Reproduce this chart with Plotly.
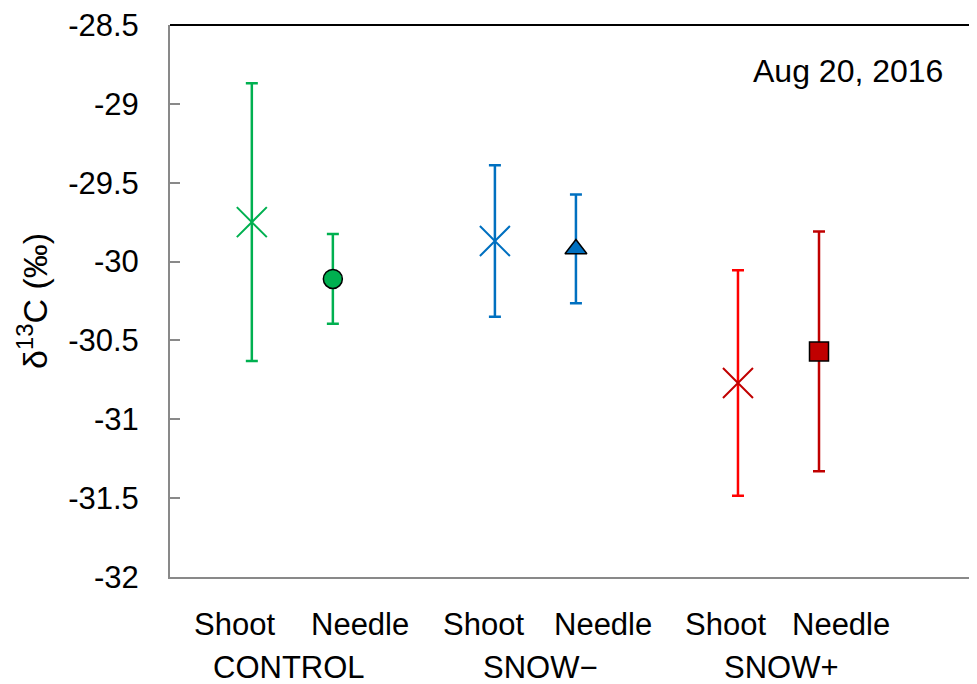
import plotly.graph_objects as go

# slot positions along the x axis (shoot / needle per treatment)
positions = [0, 1, 3, 4, 6, 7]
means = [-29.75, -30.11, -29.87, -29.92, -30.77, -30.57]
errors = [0.88, 0.285, 0.48, 0.345, 0.715, 0.76]
tissues = ["Shoot", "Needle", "Shoot", "Needle", "Shoot", "Needle"]
treatments = ["CONTROL", "SNOW\u2212", "SNOW+"]
y_ticks = [-32, -31.5, -31, -30.5, -30, -29.5, -29, -28.5]

bar_colors = ["#00B050", "#00B050", "#0070C0", "#0070C0", "#FF0000", "#C00000"]
marker_fill = ["#00B050", "#00B050", "#0070C0", "#0070C0", "#C00000", "#C00000"]
symbols = ["x-thin", "circle", "x-thin", "triangle-up", "x-thin", "square"]

# where the text labels sit below the axis (x data units)
tissue_label_x = [-0.21, 1.33, 2.86, 4.33, 5.84, 7.27]
treatment_label_x = [0.46, 3.56, 6.54]

FONT = "Liberation Sans, Arial, sans-serif"

fig = go.Figure()

for i in range(len(positions)):
    is_x = symbols[i] == "x-thin"
    fig.add_trace(go.Scatter(
        x=[positions[i]],
        y=[means[i]],
        mode="markers",
        error_y=dict(type="data", array=[errors[i]], color=bar_colors[i],
                     thickness=2.5, width=6),
        marker=dict(
            symbol=symbols[i],
            size=30 if is_x else 19,
            color=marker_fill[i],
            line=dict(width=2 if is_x else 1.5,
                      color=marker_fill[i] if is_x else "black"),
        ),
        showlegend=False,
    ))

# tissue labels under each marker
for xpos, name in zip(tissue_label_x, tissues):
    fig.add_annotation(x=xpos, y=0, xref="x", yref="paper", yanchor="middle",
                       yshift=-47, text=name, showarrow=False,
                       font=dict(family=FONT, size=31, color="black"))

# treatment labels
for xpos, name in zip(treatment_label_x, treatments):
    fig.add_annotation(x=xpos, y=0, xref="x", yref="paper", yanchor="middle",
                       yshift=-90, text=name, showarrow=False,
                       font=dict(family=FONT, size=31, color="black"))

fig.add_annotation(x=0.96, y=0.917, xref="paper", yref="paper", text="Aug 20, 2016",
                   showarrow=False, xanchor="right", yanchor="middle",
                   font=dict(family=FONT, size=32, color="black"))

fig.add_annotation(x=-0.171, y=0.5, xref="paper", yref="paper", xanchor="center",
                   yanchor="middle",
                   text="\u03b4<sup>13</sup>C (\u2030)", textangle=-90, showarrow=False,
                   font=dict(family=FONT, size=34, color="black"))

# black top border
fig.add_shape(type="line", xref="paper", yref="paper", x0=0, x1=1, y0=1, y1=1,
              line=dict(color="black", width=2))

fig.update_layout(
    width=969, height=676,
    margin=dict(l=162, r=0, t=14, b=107),
    plot_bgcolor="white", paper_bgcolor="white",
    xaxis=dict(range=[-1.01, 8.95], showgrid=False, zeroline=False,
               showticklabels=False, ticks="", showline=True,
               linecolor="#898989", linewidth=2),
    yaxis=dict(range=[-32, -28.5], tickvals=y_ticks,
               ticktext=[f"{v:g}" for v in y_ticks], showgrid=False, zeroline=False,
               showline=True, linecolor="#898989", linewidth=2,
               ticks="inside", ticklen=10, tickcolor="#898989", tickwidth=2,
               ticklabelstandoff=23, ticklabeloverflow="allow",
               tickfont=dict(family=FONT, size=31, color="black")),
)

fig.write_html("out.html")
